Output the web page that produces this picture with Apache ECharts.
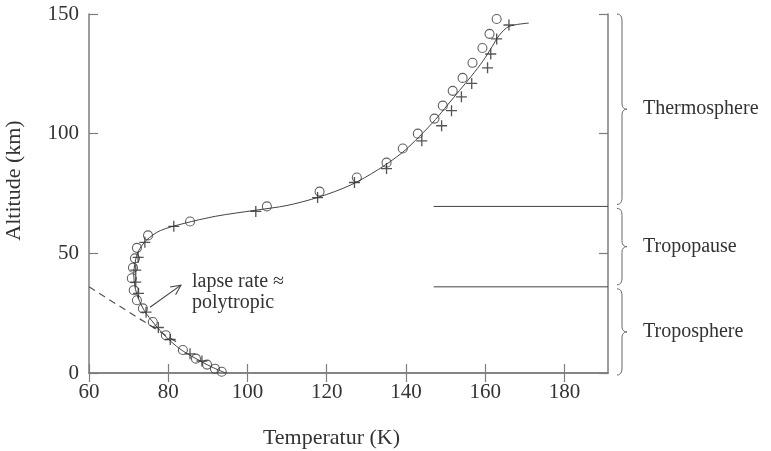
<!DOCTYPE html>
<html>
<head>
<meta charset="utf-8">
<script src="https://cdn.jsdelivr.net/npm/echarts@6/dist/echarts.min.js"></script>
<style>
html,body{margin:0;padding:0;background:#fff;}
#c{width:771px;height:451px;}
</style>
</head>
<body>
<div id="c"></div>
<script>
// ---- data ----
const xTicks = [60, 80, 100, 120, 140, 160, 180];
const yTicks = [0, 50, 100, 150];
const xName = 'Temperatur (K)';
const yName = 'Altitude (km)';

const circleT   = [93.5, 91.8, 89.8, 87, 83.7, 79.4, 76.1, 73.6, 72.1, 71.3, 70.8, 71.1, 71.6, 72.1, 74.9, 85.5, 104.9, 118.2, 127.6, 135.1, 139.2, 143, 147.2, 149.3, 151.8, 154.3, 156.8, 159.3, 161.1, 162.9];
const circleAlt = [0.5, 1.8, 3.5, 6, 9.6, 15.8, 21.3, 27, 30.4, 34.6, 39.6, 44, 47.9, 52.3, 57.5, 63.3, 69.6, 75.8, 81.7, 87.9, 93.8, 100, 106.3, 111.7, 117.9, 123.3, 129.6, 135.8, 141.7, 147.9];

const plusT   = [88.5, 85.5, 80.5, 77.5, 74.4, 72.5, 71.8, 71.8, 72.4, 74.1, 81.4, 102.1, 117.7, 127, 135.1, 144, 149, 151.5, 154, 156.6, 160.6, 161.4, 162.9, 166];
const plusAlt = [5, 8, 14, 19, 25.4, 33.3, 38, 43, 48.3, 54.6, 61.3, 67.5, 73.3, 79.6, 85.4, 97, 103.3, 109.6, 115.4, 121, 127.5, 133.3, 139.6, 145.4];

const curveT   = [94.5, 91, 87, 83, 79.5, 76.5, 74, 72.5, 71.6, 71.3, 71.6, 72.5, 74.5, 78, 84, 92, 102, 110, 118, 126, 133, 139, 143.5, 147.5, 150.5, 153.5, 156.5, 159.5, 161.8, 163.5, 166, 171];
const curveAlt = [0, 2.5, 6, 10, 15, 20.5, 26, 31, 36, 41, 46, 51, 55.5, 59.5, 62.5, 65.5, 68, 70, 73.5, 78.5, 85, 92, 99, 106, 112, 118, 124, 130.5, 136.5, 141, 144.8, 146.2];

const dashT   = [60, 82];
const dashAlt = [36, 13];

const layerBounds = [0, 36, 69.6, 150];
const layerNames  = ['Troposphere', 'Tropopause', 'Thermosphere'];
const boundaryStartT = 147;

const arrowTail = [75.4, 27.5];
const arrowHead = [83.2, 36.7];
const arrowText = ['lapse rate \u2248', 'polytropic'];
const arrowTextPos = [86.0, 33.6];

const xMin = 60, xMax = 191, yMin = 0, yMax = 150;

// ---- chart ----
const FONT = '"Liberation Serif", "DejaVu Serif", serif';
const AXC = '#7d7d7d';
const TXT = '#333';
const chart = echarts.init(document.getElementById('c'), null, {renderer: 'canvas'});

const zip = (a, b) => a.map((v, i) => [v, b[i]]);
const plusPath = 'path://M4.4,0H5.6V4.4H10V5.6H5.6V10H4.4V5.6H0V4.4H4.4Z';

const boundarySeries = layerBounds.slice(1, 3).map(b => ({
  type: 'line', data: [[boundaryStartT, b], [xMax, b]], symbol: 'none',
  lineStyle: {color: '#444', width: 1}, silent: true, z: 2
}));

const tickCommon = {show: true, inside: true, length: 9, lineStyle: {color: AXC, width: 1.2}};

chart.setOption({
  animation: false,
  backgroundColor: '#fff',
  grid: {left: 89, top: 14, width: 519, height: 359, containLabel: false, outerBoundsMode: 'none'},
  xAxis: [{
    type: 'value', min: xMin, max: xMax,
    name: xName, nameLocation: 'middle', nameGap: 54,
    nameTextStyle: {fontFamily: FONT, fontSize: 22, color: TXT, padding: [0, 34, 0, 0]},
    axisLine: {show: true, lineStyle: {color: AXC, width: 1.5}},
    axisTick: Object.assign({customValues: xTicks}, tickCommon),
    axisLabel: {fontFamily: FONT, fontSize: 21, color: TXT, margin: 9, customValues: xTicks},
    splitLine: {show: false}
  }, {
    type: 'value', min: xMin, max: xMax, position: 'top',
    axisLine: {show: true, lineStyle: {color: AXC, width: 1.5}},
    axisTick: Object.assign({customValues: xTicks}, tickCommon),
    axisLabel: {show: false}, splitLine: {show: false}
  }],
  yAxis: [{
    type: 'value', min: yMin, max: yMax, interval: 50,
    name: yName, nameLocation: 'middle', nameGap: 64, nameRotate: 90,
    nameTextStyle: {fontFamily: FONT, fontSize: 22, color: TXT, padding: [0, 0, 0, 26]},
    axisLine: {show: true, lineStyle: {color: AXC, width: 1.5}},
    axisTick: Object.assign({customValues: yTicks}, tickCommon),
    axisLabel: {fontFamily: FONT, fontSize: 21, color: TXT, margin: 10, customValues: yTicks},
    splitLine: {show: false}
  }, {
    type: 'value', min: yMin, max: yMax, interval: 50, position: 'right',
    axisLine: {show: true, lineStyle: {color: AXC, width: 1.5}},
    axisTick: Object.assign({customValues: yTicks}, tickCommon),
    axisLabel: {show: false}, splitLine: {show: false}
  }],
  series: [
    {type: 'line', data: zip(dashT, dashAlt), symbol: 'none',
     lineStyle: {color: '#555', width: 1.2, type: [7, 5]}, z: 2},
    {type: 'line', data: zip(curveT, curveAlt), symbol: 'none', smooth: 0.3,
     lineStyle: {color: '#444', width: 1}, z: 3},
    {type: 'scatter', data: zip(circleT, circleAlt), symbol: 'circle', symbolSize: 9,
     itemStyle: {color: 'rgba(255,255,255,0)', borderColor: '#3a3a3a', borderWidth: 1.1}, z: 4},
    {type: 'scatter', data: zip(plusT, plusAlt), symbol: plusPath, symbolSize: 11,
     itemStyle: {color: '#2a2a2a'}, z: 5},
    ...boundarySeries
  ]
});

function px(t, a) { return chart.convertToPixel({gridIndex: 0}, [t, a]); }

function quad(p0, c, p1, n) {
  const out = [];
  for (let i = 1; i <= n; i++) {
    const s = i / n;
    out.push([(1 - s) * (1 - s) * p0[0] + 2 * (1 - s) * s * c[0] + s * s * p1[0],
              (1 - s) * (1 - s) * p0[1] + 2 * (1 - s) * s * c[1] + s * s * p1[1]]);
  }
  return out;
}

function bracePoints(bx, yTop, yBot) {
  const ym = (yTop + yBot) / 2;
  const v = bx + 5;
  let pts = [[bx, yTop]];
  pts = pts.concat(quad([bx, yTop], [v, yTop], [v, yTop + 7], 6));
  pts.push([v, ym - 6]);
  pts = pts.concat(quad([v, ym - 6], [v, ym], [bx + 10, ym], 6));
  pts = pts.concat(quad([bx + 10, ym], [v, ym], [v, ym + 6], 6));
  pts.push([v, yBot - 7]);
  pts = pts.concat(quad([v, yBot - 7], [v, yBot], [bx, yBot], 6));
  return pts;
}

function drawGraphics() {
  const g = [];
  const rightX = px(xMax, 0)[0];
  const bx = rightX + 9;
  for (let i = 0; i < layerNames.length; i++) {
    const yTop = px(0, layerBounds[i + 1])[1] + (i === 2 ? 0 : 2);
    const yBot = px(0, layerBounds[i])[1] - (i === 0 ? -2 : 2);
    const ym = (yTop + yBot) / 2;
    g.push({type: 'polyline', shape: {points: bracePoints(bx, yTop, yBot)},
      style: {stroke: '#666', fill: null, lineWidth: 1}, silent: true});
    g.push({type: 'text', x: bx + 26, y: ym,
      style: {text: layerNames[i], font: `20px ${FONT}`, fill: TXT, verticalAlign: 'middle', align: 'left'}});
  }
  const t = px(arrowTail[0], arrowTail[1]);
  const h = px(arrowHead[0], arrowHead[1]);
  const ang = Math.atan2(h[1] - t[1], h[0] - t[0]);
  const L = 11, sp = 0.45;
  const p1 = [h[0] - L * Math.cos(ang - sp), h[1] - L * Math.sin(ang - sp)];
  const p2 = [h[0] - L * Math.cos(ang + sp), h[1] - L * Math.sin(ang + sp)];
  g.push({type: 'polyline', shape: {points: [t, h]}, style: {stroke: '#444', fill: null, lineWidth: 1.1}});
  g.push({type: 'polyline', shape: {points: [p1, h, p2]}, style: {stroke: '#444', fill: null, lineWidth: 1.1}});
  const tp = px(arrowTextPos[0], arrowTextPos[1]);
  g.push({type: 'text', x: tp[0], y: tp[1],
    style: {text: arrowText.join('\n'), font: `20px ${FONT}`, fill: TXT, lineHeight: 21, verticalAlign: 'middle', align: 'left'}});
  chart.setOption({graphic: {elements: g}});
}
drawGraphics();
</script>
</body>
</html>
